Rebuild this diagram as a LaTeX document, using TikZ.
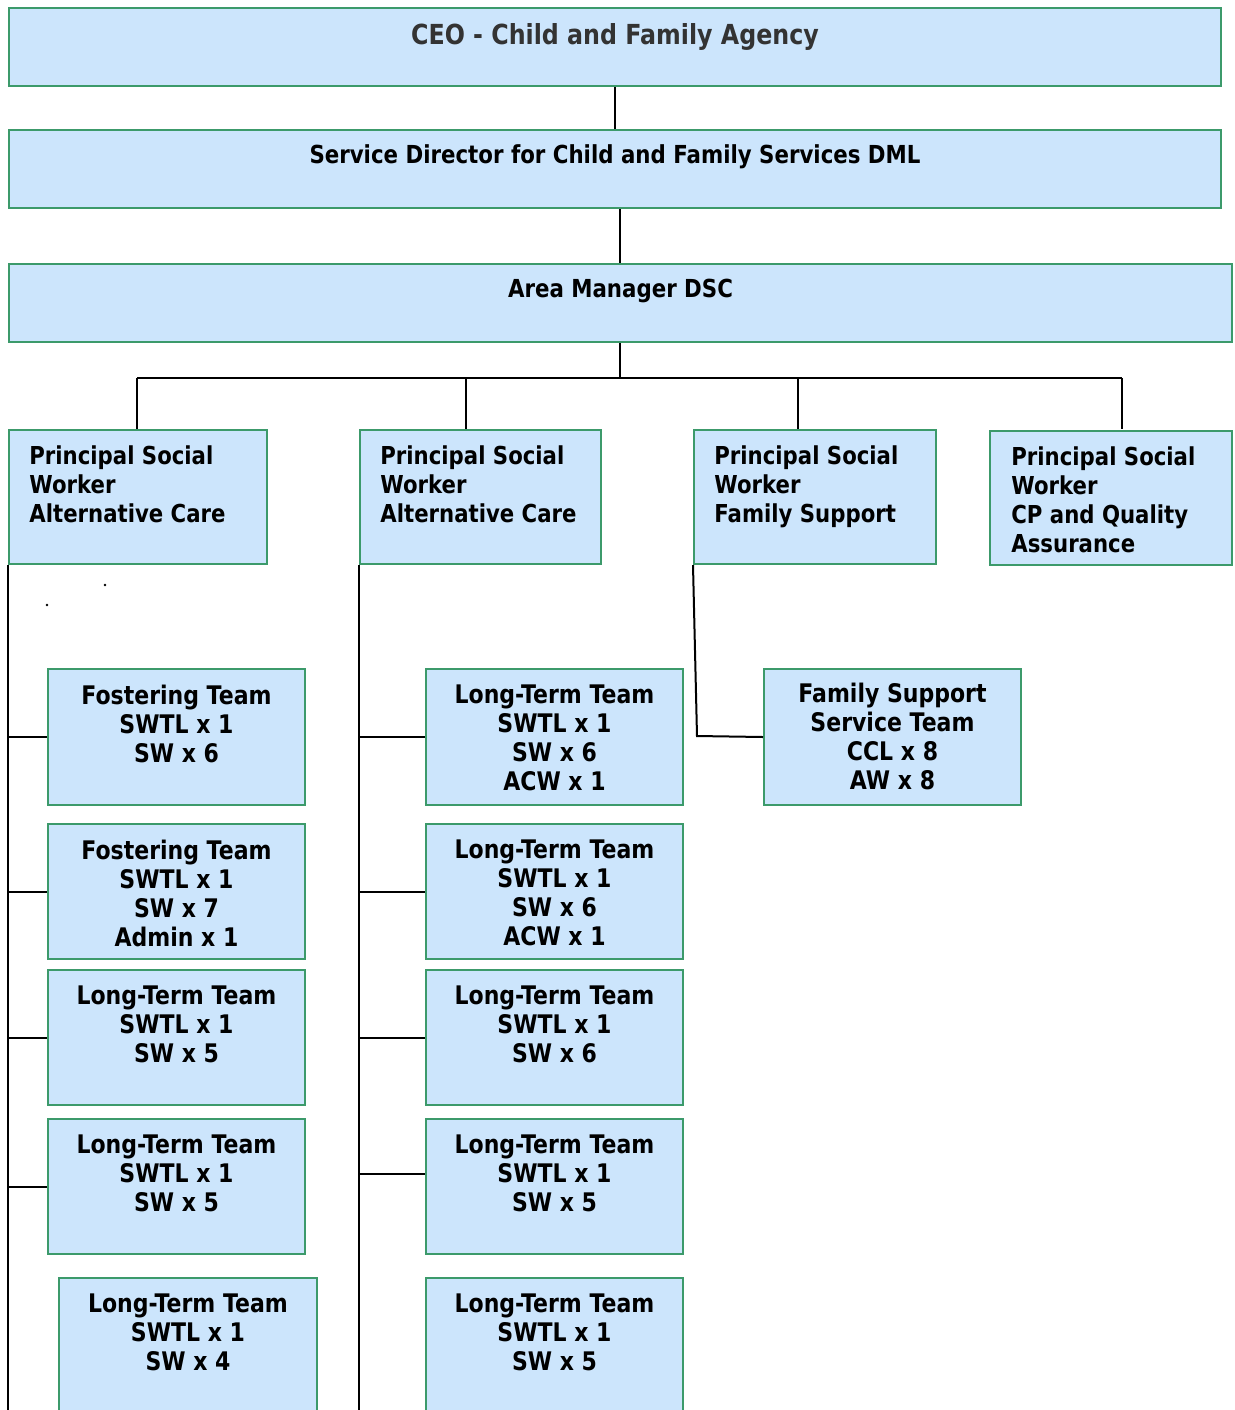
\documentclass[tikz,border=0pt]{standalone}
\usepackage{fontspec}
\setmainfont{DejaVu Sans}
\newfontfamily\narrowfont[FakeStretch=0.86]{DejaVu Sans}
\usepackage{tikz}
\usetikzlibrary{calc,positioning}
\usepackage{xcolor}
\definecolor{boxfill}{HTML}{CCE5FC}
\definecolor{boxline}{HTML}{3C9A6B}
\definecolor{headgrey}{HTML}{333333}
\tikzset{orgbox/.style={draw=boxline,fill=boxfill,line width=1pt,inner sep=0pt,anchor=north west}, link/.style={draw=black,line width=1pt}, headtext/.style={inner sep=0pt,font=\narrowfont\fontsize{13.8}{16}\selectfont\bfseries,text=headgrey}, rowtext/.style={inner sep=0pt,font=\narrowfont\fontsize{12.4}{14.5}\selectfont\bfseries}, pswtext/.style={inner sep=0pt,align=left,font=\narrowfont\fontsize{12.35}{14.5}\selectfont\bfseries}, teamtext/.style={inner sep=0pt,align=center,font=\narrowfont\fontsize{12.8}{14.5}\selectfont\bfseries}}

\begin{document}
\begin{tikzpicture}[x=0.5pt,y=-0.5pt]
\useasboundingbox (0,0) rectangle (1235,1410);
\clip (0,0) rectangle (1235,1410);
% top of the chart
\node[orgbox,minimum width=606pt,minimum height=39pt] (ceo) at (8,7) {};
\node[orgbox,minimum width=606pt,minimum height=39pt] (sd) at (8,129) {};
\node[orgbox,minimum width=611.5pt,minimum height=39pt] (am) at (8,263) {};
\node[headtext,below=8.2pt of ceo.north] (ceot) {CEO - Child and Family Agency};
\node[rowtext,below=7.5pt of sd.north] (sdt) {Service Director for Child and Family Services DML};
\node[rowtext,below=8pt of am.north] (amt) {Area Manager DSC};
% principal social workers
\node[orgbox,minimum width=129pt,minimum height=67pt] (p1) at (8,429) {};
\node[orgbox,minimum width=120.5pt,minimum height=67pt] (p2) at (359,429) {};
\node[orgbox,minimum width=121pt,minimum height=67pt] (p3) at (693,429) {};
\node[orgbox,minimum width=121pt,minimum height=67pt] (p4) at (989,430) {};
\node[pswtext,below right=8pt and 10.5pt of p1.north west] (p1t) {Principal Social\\Worker\\Alternative Care};
\node[pswtext,below right=8pt and 10.5pt of p2.north west] (p2t) {Principal Social\\Worker\\Alternative Care};
\node[pswtext,below right=8pt and 10.5pt of p3.north west] (p3t) {Principal Social\\Worker\\Family Support};
\node[pswtext,below right=8pt and 11pt of p4.north west] (p4t) {Principal Social\\Worker\\CP and Quality\\Assurance};
% teams
\node[orgbox,minimum width=128.5pt,minimum height=68pt] (f1) at (47,668) {};
\node[orgbox,minimum width=128.5pt,minimum height=67.5pt] (f2) at (47,823) {};
\node[orgbox,minimum width=128.5pt,minimum height=67.5pt] (l3) at (47,969) {};
\node[orgbox,minimum width=128.5pt,minimum height=67.5pt] (l4) at (47,1118) {};
\node[orgbox,minimum width=129pt,minimum height=70pt] (l5) at (58,1277) {};
\node[orgbox,minimum width=128.5pt,minimum height=68pt] (m1) at (425,668) {};
\node[orgbox,minimum width=128.5pt,minimum height=67.5pt] (m2) at (425,823) {};
\node[orgbox,minimum width=128.5pt,minimum height=67.5pt] (m3) at (425,969) {};
\node[orgbox,minimum width=128.5pt,minimum height=67.5pt] (m4) at (425,1118) {};
\node[orgbox,minimum width=128.5pt,minimum height=70pt] (m5) at (425,1277) {};
\node[orgbox,minimum width=128.5pt,minimum height=68pt] (fs) at (763,668) {};
\node[teamtext,below=8.3pt of f1.north] (f1t) {Fostering Team\\SWTL x 1\\SW x 6};
\node[teamtext,below=8.3pt of f2.north] (f2t) {Fostering Team\\SWTL x 1\\SW x 7\\Admin x 1};
\node[teamtext,below=8.3pt of l3.north] (l3t) {Long-Term Team\\SWTL x 1\\SW x 5};
\node[teamtext,below=8.3pt of l4.north] (l4t) {Long-Term Team\\SWTL x 1\\SW x 5};
\node[teamtext,below=8.3pt of l5.north] (l5t) {Long-Term Team\\SWTL x 1\\SW x 4};
\node[teamtext,below=8.3pt of m1.north] (m1t) {Long-Term Team\\SWTL x 1\\SW x 6\\ACW x 1};
\node[teamtext,below=8.3pt of m2.north] (m2t) {Long-Term Team\\SWTL x 1\\SW x 6\\ACW x 1};
\node[teamtext,below=8.3pt of m3.north] (m3t) {Long-Term Team\\SWTL x 1\\SW x 6};
\node[teamtext,below=8.3pt of m4.north] (m4t) {Long-Term Team\\SWTL x 1\\SW x 5};
\node[teamtext,below=8.3pt of m5.north] (m5t) {Long-Term Team\\SWTL x 1\\SW x 5};
\node[teamtext,below=7.5pt of fs.north] (fst) {Family Support\\Service Team\\CCL x 8\\AW x 8};
% connectors
\coordinate (bus) at (620,378);
\coordinate (d1) at (137,429); \coordinate (d2) at (466,429); \coordinate (d3) at (798,429); \coordinate (d4) at (1122,429);
\coordinate (lend) at (8,1412); \coordinate (mend) at (359,1412);
\coordinate (bend) at (697,736); \coordinate (m4in) at (425,1174);
\draw[link] (ceo.south) -- (sd.north);
\draw[link] (am.north -| 620,0) -- (sd.south -| 620,0);
\draw[link] (am.south -| bus) -- (bus);
\draw[link] (d1 |- bus) -- (d4 |- bus);
\draw[link] (d1 |- bus) -- (d1); \draw[link] (d2 |- bus) -- (d2);
\draw[link] (d3 |- bus) -- (d3); \draw[link] (d4 |- bus) -- (d4);
\draw[link] (p1.south west) -- (lend);
\draw[link] (p2.south west) -- (mend);
\foreach \t in {f1,f2,l3,l4} \draw[link] (\t.west -| lend) -- (\t.west);
\foreach \t in {m1,m2,m3} \draw[link] (\t.west -| mend) -- (\t.west);
\draw[link] (m4in -| mend) -- (m4in);
\draw[link] (p3.south west) -- (bend) -- (fs.west);
\fill (105,585) circle[radius=0.7pt]; \fill (47,605) circle[radius=0.7pt];
\end{tikzpicture}
\end{document}
